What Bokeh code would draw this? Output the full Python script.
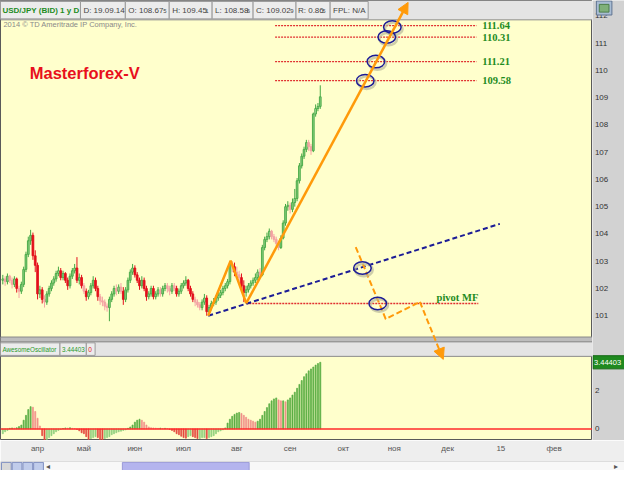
from bokeh.plotting import figure
from bokeh.models import Range1d, FixedTicker, ColumnDataSource, Arrow, NormalHead
from bokeh.layouts import column, row
from bokeh.embed import file_html
from bokeh.resources import INLINE
from bokeh.core.properties import value

# ------------------------------------------------------------------ data
bar_index = list(range(-15, 123))  # trading-day bars, 0 = 1 April 2014

opens = [
    102.30, 102.35, 102.25, 102.45, 102.30, 102.15, 102.35, 102.00, 101.90, 102.15,
    102.70, 103.25, 103.75, 103.95, 103.20, 102.85, 101.80, 101.95, 101.60, 101.50,
    101.80, 102.00, 102.20, 102.35, 102.55, 102.65, 102.40, 102.55, 102.30, 102.10,
    102.45, 102.65, 102.75, 102.30, 102.40, 102.10, 101.90, 101.70, 101.85, 102.10,
    102.30, 102.00, 101.70, 101.55, 101.50, 101.35, 101.30, 101.60, 101.80, 102.00,
    101.90, 102.05, 101.90, 101.60, 101.95, 102.30, 102.60, 102.75, 102.50, 102.30,
    102.10, 102.30, 102.00, 101.70, 101.80, 102.00, 101.70, 101.80, 101.95, 101.80,
    102.00, 102.10, 102.00, 101.90, 102.10, 102.00, 101.80, 101.90, 102.10, 102.20,
    102.30, 102.00, 101.80, 101.60, 101.50, 101.40, 101.30, 101.50, 101.65, 101.15,
    101.30, 101.45, 101.50, 101.65, 101.75, 101.85, 102.00, 102.10, 102.25, 102.90,
    102.80, 102.60, 102.50, 102.40, 102.10, 101.85, 101.95, 102.10, 102.20, 102.30,
    102.40, 102.60, 102.50, 103.50, 103.80, 103.90, 104.10, 103.90, 103.80, 103.65,
    103.50, 103.85, 104.40, 105.00, 105.05, 104.90, 105.15, 105.30, 105.95, 106.50,
    106.85, 107.10, 107.35, 107.20, 107.05, 108.40, 108.60, 108.675,
]
highs = [
    102.50, 102.45, 102.55, 102.50, 102.40, 102.45, 102.40, 102.10, 102.25, 102.80,
    103.35, 103.90, 104.15, 104.05, 103.40, 102.95, 102.10, 102.05, 101.75, 101.90,
    102.10, 102.30, 102.45, 102.65, 102.80, 102.75, 102.65, 102.60, 102.40, 102.55,
    102.75, 102.90, 103.15, 102.55, 102.50, 102.20, 102.00, 101.95, 102.20, 102.45,
    102.40, 102.10, 101.80, 101.70, 101.60, 101.45, 101.70, 101.90, 102.10, 102.15,
    102.15, 102.20, 102.05, 102.05, 102.40, 102.70, 102.90, 102.85, 102.60, 102.40,
    102.45, 102.40, 102.10, 101.90, 102.10, 102.10, 101.90, 102.05, 102.05, 102.10,
    102.20, 102.20, 102.10, 102.20, 102.20, 102.10, 102.00, 102.20, 102.30, 102.45,
    102.35, 102.10, 101.90, 101.70, 101.60, 101.50, 101.60, 101.80, 101.75, 101.40,
    101.55, 101.65, 101.75, 101.85, 101.95, 102.10, 102.20, 102.35, 103.00, 103.00,
    102.95, 102.80, 102.65, 102.55, 102.30, 102.10, 102.20, 102.30, 102.40, 102.55,
    102.70, 102.75, 103.60, 103.90, 104.05, 104.20, 104.15, 104.00, 103.90, 103.75,
    103.95, 104.50, 105.10, 105.20, 105.15, 105.30, 105.65, 106.05, 106.60, 106.95,
    107.20, 107.45, 107.45, 107.30, 108.45, 108.75, 108.80, 109.451,
]
lows = [
    102.15, 102.10, 102.15, 102.20, 102.00, 102.05, 101.85, 101.65, 101.80, 102.05,
    102.60, 103.15, 103.60, 103.05, 102.60, 101.60, 101.65, 101.45, 101.30, 101.40,
    101.70, 101.90, 102.10, 102.25, 102.45, 102.30, 102.30, 102.20, 101.95, 102.00,
    102.35, 102.55, 102.20, 102.15, 102.00, 101.80, 101.55, 101.60, 101.75, 102.00,
    101.90, 101.55, 101.40, 101.35, 101.20, 101.15, 100.80, 101.50, 101.70, 101.75,
    101.80, 101.80, 101.40, 101.50, 101.85, 102.20, 102.50, 102.40, 102.20, 101.95,
    102.00, 101.90, 101.55, 101.60, 101.70, 101.60, 101.60, 101.70, 101.70, 101.70,
    101.90, 101.85, 101.75, 101.80, 101.90, 101.70, 101.70, 101.80, 102.00, 102.10,
    101.90, 101.70, 101.50, 101.35, 101.30, 101.20, 101.20, 101.40, 101.00, 101.05,
    101.20, 101.35, 101.40, 101.55, 101.65, 101.75, 101.90, 102.00, 102.15, 102.60,
    102.45, 102.35, 102.25, 102.00, 101.50, 101.70, 101.85, 102.00, 102.10, 102.20,
    102.30, 102.35, 102.45, 103.40, 103.70, 103.80, 103.80, 103.70, 103.55, 103.40,
    103.45, 103.80, 104.30, 104.85, 104.75, 104.80, 105.00, 105.20, 105.85, 106.40,
    106.75, 107.00, 107.05, 106.90, 107.00, 108.30, 108.50, 108.586,
]
closes = [
    102.35, 102.25, 102.45, 102.30, 102.15, 102.35, 102.00, 101.90, 102.15, 102.70,
    103.25, 103.75, 103.95, 103.20, 102.85, 101.80, 101.95, 101.60, 101.50, 101.80,
    102.00, 102.20, 102.35, 102.55, 102.65, 102.40, 102.55, 102.30, 102.10, 102.45,
    102.65, 102.75, 102.30, 102.40, 102.10, 101.90, 101.70, 101.85, 102.10, 102.30,
    102.00, 101.70, 101.55, 101.50, 101.35, 101.30, 101.60, 101.80, 102.00, 101.90,
    102.05, 101.90, 101.60, 101.95, 102.30, 102.60, 102.75, 102.50, 102.30, 102.10,
    102.30, 102.00, 101.70, 101.80, 102.00, 101.70, 101.80, 101.95, 101.80, 102.00,
    102.10, 102.00, 101.90, 102.10, 102.00, 101.80, 101.90, 102.10, 102.20, 102.30,
    102.00, 101.80, 101.60, 101.50, 101.40, 101.30, 101.50, 101.65, 101.15, 101.30,
    101.45, 101.50, 101.65, 101.75, 101.85, 102.00, 102.10, 102.25, 102.90, 102.80,
    102.60, 102.50, 102.40, 102.10, 101.85, 101.95, 102.10, 102.20, 102.30, 102.40,
    102.60, 102.50, 103.50, 103.80, 103.90, 104.10, 103.90, 103.80, 103.65, 103.50,
    103.85, 104.40, 105.00, 105.05, 104.90, 105.15, 105.30, 105.95, 106.50, 106.85,
    107.10, 107.35, 107.20, 107.05, 108.40, 108.60, 108.675, 109.029,
]
ao = [
    -0.25, -0.15, -0.08, 0.03, 0.05, 0.04, 0.06, 0.12, 0.20, 0.45,
    0.70, 1.00, 1.15, 1.12, 0.90, 0.55, 0.15, -0.35, -0.60, -0.55,
    -0.45, -0.35, -0.25, -0.15, -0.08, -0.03, 0.02, 0.05, 0.04, 0.06,
    0.03, 0.02, -0.03, -0.10, -0.20, -0.25, -0.40, -0.55, -0.50, -0.45,
    -0.40, -0.45, -0.55, -0.58, -0.50, -0.45, -0.40, -0.30, -0.25, -0.20,
    -0.15, -0.12, -0.08, -0.05, 0.03, 0.10, 0.20, 0.35, 0.45, 0.50,
    0.45, 0.35, 0.20, 0.10, 0.06, 0.05, 0.04, 0.03, 0.04, 0.02,
    0.03, 0.02, -0.03, -0.08, -0.15, -0.25, -0.30, -0.38, -0.45, -0.48,
    -0.40, -0.35, -0.40, -0.45, -0.50, -0.50, -0.45, -0.45, -0.50, -0.45,
    -0.40, -0.35, -0.25, -0.15, -0.10, -0.05, 0.05, 0.30, 0.50, 0.65,
    0.75, 0.82, 0.85, 0.80, 0.70, 0.60, 0.50, 0.45, 0.40, 0.35,
    0.40, 0.50, 0.70, 0.90, 1.10, 1.30, 1.45, 1.55, 1.60, 1.50,
    1.45, 1.45, 1.40, 1.50, 1.60, 1.75, 1.90, 2.10, 2.30, 2.50,
    2.70, 2.85, 3.00, 3.10, 3.20, 3.30, 3.38, 3.44403,
]
assert len(opens) == len(highs) == len(lows) == len(closes) == len(ao) == len(bar_index)

month_ticks = [0, 20, 42, 63, 86, 109, 132, 154, 177, 200, 223]
month_labels = ["апр", "май", "июн", "июл", "авг", "сен", "окт", "ноя", "дек", "15", "фев"]
price_ticks = [101, 102, 103, 104, 105, 106, 107, 108, 109, 110, 111, 112]
osc_ticks = [0, 2]
last_ao_text = "3.44403"

# drawings (bar index, price)
level_prices = [111.64, 111.22, 110.32, 109.62]
level_labels = ["111.64", "110.31", "111.21", "109.58"]
level_start, level_end, level_label_at = 102.5, 189.4, 191.9
pivot_price, pivot_start, pivot_end = 101.45, 90.06, 190.2
pivot_label_price = 101.68
zig_x = [73.65, 83.33, 90.06]
zig_y = [101.00, 103.02, 101.46]
zig_tip = (159.9, 112.49)
trend_x = [73.65, 199.5]
trend_y = [101.00, 104.37]
dash_x = [137.3, 150.25, 164.98]
dash_y = [103.52, 100.88, 101.51]
dash_tip = (175.08, 99.40)
ell_x = [153.1, 150.7, 146.0, 141.4, 140.2, 146.8]
ell_y = [111.59, 111.22, 110.32, 109.62, 102.75, 101.45]

# ------------------------------------------------------------------ geometry
SX, SY = 624 / 640, 464 / 480
FW = round(607 * SX)
FH = round(455 * SY)
RIGHT = 624 - FW


def bar_at(px):
    return (px - 38.0) / 2.376


def price_at(py):
    return 101 + (326 - py) / 28.2


def osc_at(py):
    return (443 - py) / 20.0


ORANGE = "#ff9a0a"
NAVY = "#1c1c96"
GREEN_TXT = "#1e8c1e"
GRAY_SIDE = "#d2d2d2"
FONT = value("Liberation Sans")

x0, x1 = bar_at(0), bar_at(607)
price_range = Range1d(price_at(455), price_at(0))
osc_range = Range1d(osc_at(455), osc_at(0))
py_range = Range1d(455, 0)

p = figure(frame_width=FW, frame_height=FH,
           x_range=Range1d(x0, x1), y_range=price_range,
           x_axis_location=None, y_axis_location=None,
           output_backend="svg", toolbar_location=None,
           min_border_left=0, min_border_right=0, min_border_top=0, min_border_bottom=0,
           background_fill_color="#ffffcc", border_fill_color=GRAY_SIDE,
           outline_line_color="#5a5a5a")
p.extra_y_ranges = {"osc": osc_range, "py": py_range}
p.extra_x_ranges = {"px": Range1d(0, 607)}
p.grid.visible = False

LAY = dict(x_range_name="px", y_range_name="py")


def txt(fig, xs, ys, texts, color="#444444", size="8px", bold=False, font=FONT, align="left", **kw):
    fig.text(x=xs, y=ys, text=texts, text_color=color, text_font=font, text_font_size=size,
             text_font_style="bold" if bold else "normal", text_align=align,
             text_baseline="middle", **kw)


# ---- header bar
p.quad(left=[0], right=[607], top=[0], bottom=[20], fill_color="#e4e4e4", line_color="#8c8c8c", **LAY)
edges = [0, 82, 128, 173, 217, 259, 303, 338, 377]
p.quad(left=edges[:-1], right=edges[1:], top=[1] * 8, bottom=[19] * 8,
       fill_color="#ececec", line_color="#9a9a9a", **LAY)
txt(p, [2], [10], ["USD/JPY (BID) 1 y D"], color=GREEN_TXT, bold=True, **LAY)
txt(p, [85, 131, 176, 220, 262, 305, 341], [10] * 7,
    ["D: 19.09.14", "O: 108.67", "H: 109.45", "L: 108.58", "C: 109.02", "R: 0.86", "FPL: N/A"], **LAY)
txt(p, [167, 210, 252.5, 297, 330], [11] * 5, ["5", "1", "6", "9", "5"], size="6px", **LAY)

# ---- oscillator header
p.quad(left=[0], right=[607], top=[348], bottom=[353], fill_color="#bdbdbd", line_color="#8a8a8a", **LAY)
p.quad(left=[0], right=[607], top=[353], bottom=[368], fill_color="#e4e4e4", line_color="#8c8c8c", **LAY)
p.quad(left=[0, 61, 88], right=[61, 88, 97], top=[354] * 3, bottom=[367] * 3,
       fill_color="#ececec", line_color="#9a9a9a", **LAY)
txt(p, [2, 63], [360.5, 360.5], ["AwesomeOscillator", last_ao_text], color="#2a9a2a", size="6.3px", **LAY)
txt(p, [90], [360.5], ["0"], color="#e02020", size="6.5px", **LAY)

# ---- texts in the price panel
txt(p, [3], [25], ["2014 © TD Ameritrade IP Company, Inc."], color="#8a8a8a", size="7.5px", **LAY)
txt(p, [30], [75], ["Masterforex-V"], color="#e8101c", size="16.5px", bold=True, **LAY)

# ---- candles
c_fill, c_line = [], []
for o, c in zip(opens, closes):
    if c >= o:
        c_fill.append("#a4da9c" if c - o < 0.2 else "#86cc7c")
        c_line.append("#45a845")
    else:
        col = "#f4a4a4" if o - c < 0.2 else "#e3101c"
        c_fill.append(col)
        c_line.append(col)
src = ColumnDataSource(dict(x=bar_index, o=opens, h=highs, l=lows, c=closes,
                            top=[max(a, b) for a, b in zip(opens, closes)],
                            bottom=[min(a, b) for a, b in zip(opens, closes)],
                            fill=c_fill, line=c_line))
p.segment(x0="x", x1="x", y0="l", y1="h", line_color="line", line_width=1, source=src)
p.vbar(x="x", top="top", bottom="bottom", width=0.75, fill_color="fill", line_color="line",
       line_width=0.9, source=src)

# ---- awesome oscillator
ao_cols = []
prev = None
for v in ao:
    rising = prev is None or v >= prev
    if rising:
        ao_cols.append("#5aae44" if v >= 0 else "#8fd07c")
    else:
        ao_cols.append("#f09088" if v >= 0 else "#e4483e")
    prev = v
p.vbar(x=bar_index, top=ao, bottom=0, width=0.45, fill_color=ao_cols, line_color=ao_cols,
       line_width=0.7, y_range_name="osc")
p.line(x=[x0, x1], y=[0, 0], line_color="#ff2a2a", line_width=1.5, y_range_name="osc")

# ---- level lines and labels
n = len(level_prices)
p.segment(x0=[level_start] * n, x1=[level_end] * n, y0=level_prices, y1=level_prices,
          line_color="#e03030", line_width=1.3, line_dash="2 1")
p.text(x=[level_label_at] * n, y=level_prices, text=level_labels, text_color=GREEN_TXT,
       text_font=value("Liberation Serif"), text_font_style="bold", text_font_size="10.5px",
       text_baseline="middle")
p.segment(x0=[pivot_start], x1=[pivot_end], y0=[pivot_price], y1=[pivot_price],
          line_color="#e03030", line_width=1.3, line_dash="2 1")
p.text(x=[pivot_end], y=[pivot_label_price], text=["pivot MF"], text_color=GREEN_TXT,
       text_font=value("Liberation Serif"), text_font_style="bold", text_font_size="10.5px",
       text_baseline="middle", text_align="right")

# ---- trend line
p.line(trend_x, trend_y, line_color=NAVY, line_width=2, line_dash="5 3")

# ---- orange zigzag + arrow
p.line(zig_x, zig_y, line_color=ORANGE, line_width=2.5)
p.add_layout(Arrow(end=NormalHead(size=11, fill_color=ORANGE, line_color=ORANGE),
                   x_start=zig_x[-1], y_start=zig_y[-1], x_end=zig_tip[0], y_end=zig_tip[1],
                   line_color=ORANGE, line_width=2.5))

# ---- dashed orange path + arrow
p.line(dash_x, dash_y, line_color=ORANGE, line_width=2, line_dash="6 3")
p.add_layout(Arrow(end=NormalHead(size=11, fill_color=ORANGE, line_color=ORANGE),
                   x_start=dash_x[-1], y_start=dash_y[-1], x_end=dash_tip[0], y_end=dash_tip[1],
                   line_color=ORANGE, line_width=2, line_dash="6 3"))

# ---- circles with shadow
shift_x, shift_y = 1.5 / 2.376, 2.0 / 28.2
p.ellipse(x=[v + shift_x for v in ell_x], y=[v - shift_y for v in ell_y],
          width=18 * SX, height=13 * SY, width_units="screen", height_units="screen",
          fill_color=None, line_color="#b9b99a", line_width=2.5, line_alpha=0.7)
p.ellipse(x=ell_x, y=ell_y, width=18 * SX, height=13 * SY, width_units="screen",
          height_units="screen", fill_color=None, line_color=NAVY, line_width=1.5)

# ------------------------------------------------------------------ right value strip
s = figure(frame_width=RIGHT, frame_height=FH,
           x_range=Range1d(607, 640), y_range=price_range,
           x_axis_location=None, y_axis_location=None,
           output_backend="svg", toolbar_location=None,
           min_border_left=0, min_border_right=0, min_border_top=0, min_border_bottom=0,
           background_fill_color=GRAY_SIDE, border_fill_color=GRAY_SIDE, outline_line_color=None)
s.extra_y_ranges = {"osc": osc_range, "py": py_range}
s.grid.visible = False
txt(s, [609.5] * len(price_ticks), price_ticks, [str(t) for t in price_ticks],
    color="#333333", size="8px")
txt(s, [609.5] * len(osc_ticks), osc_ticks, [str(t) for t in osc_ticks],
    color="#333333", size="8px", y_range_name="osc")
s.quad(left=[607.5], right=[640], top=[ao[-1] + 0.34], bottom=[ao[-1] - 0.34],
       fill_color="#1f8a1f", line_color="#166a16", y_range_name="osc")
txt(s, [608.5], [ao[-1]], [last_ao_text], color="white", size="7.5px", y_range_name="osc")
# small settings icon in the corner (partly hides the top label, as in the original)
s.quad(left=[611], right=[627], top=[0.5], bottom=[15], fill_color="#a9bdd4", line_color="#5f7391",
       y_range_name="py")
s.quad(left=[614], right=[624], top=[4], bottom=[12], fill_color="#7fb07a", line_color="#4d7f4a",
       y_range_name="py")

# ------------------------------------------------------------------ time axis + scrollbar
c = figure(frame_width=624, frame_height=9,
           x_range=Range1d(bar_at(0), bar_at(640)), y_range=Range1d(0, 1),
           x_axis_location="above", y_axis_location=None,
           output_backend="svg", toolbar_location=None,
           min_border_left=0, min_border_right=0, min_border_top=15, min_border_bottom=0,
           background_fill_color="#f6f6f6", border_fill_color="#eeeeee", outline_line_color=None)
c.grid.visible = False
c.extra_x_ranges = {"px": Range1d(0, 640)}
c.extra_y_ranges = {"py": Range1d(10, 0)}
xa = c.xaxis[0]
xa.ticker = FixedTicker(ticks=month_ticks)
xa.major_label_overrides = dict(zip(month_ticks, month_labels))
xa.axis_line_color = None
xa.major_tick_line_color = None
xa.minor_tick_line_color = None
xa.major_label_standoff = 3
xa.major_label_text_font_size = "8px"
xa.major_label_text_color = "#555555"
xa.major_label_text_font = "Liberation Sans"

c.quad(left=[0], right=[640], top=[0], bottom=[10], fill_color="#f8f8f8", line_color="#c4c4c4", **LAY)
c.quad(left=[125], right=[255], top=[1], bottom=[10], fill_color="#b4b4ee", line_color="#9a9ad8", **LAY)
c.quad(left=[1, 12, 23, 34], right=[11, 22, 33, 44], top=[1] * 4, bottom=[10] * 4,
       fill_color=["#d8d8d8", "#c0cceb", "#c0cceb", "#c0cceb"], line_color="#7f8fc0", **LAY)
c.text(x=[47, 629], y=[5.5, 5.5], text=["◂", "▸"], text_color="#555555", text_font=FONT,
       text_font_size="8px", text_baseline="middle", **LAY)

layout = column(row(p, s, spacing=0), c, spacing=0)
open("out.html", "w").write(file_html(layout, INLINE))
